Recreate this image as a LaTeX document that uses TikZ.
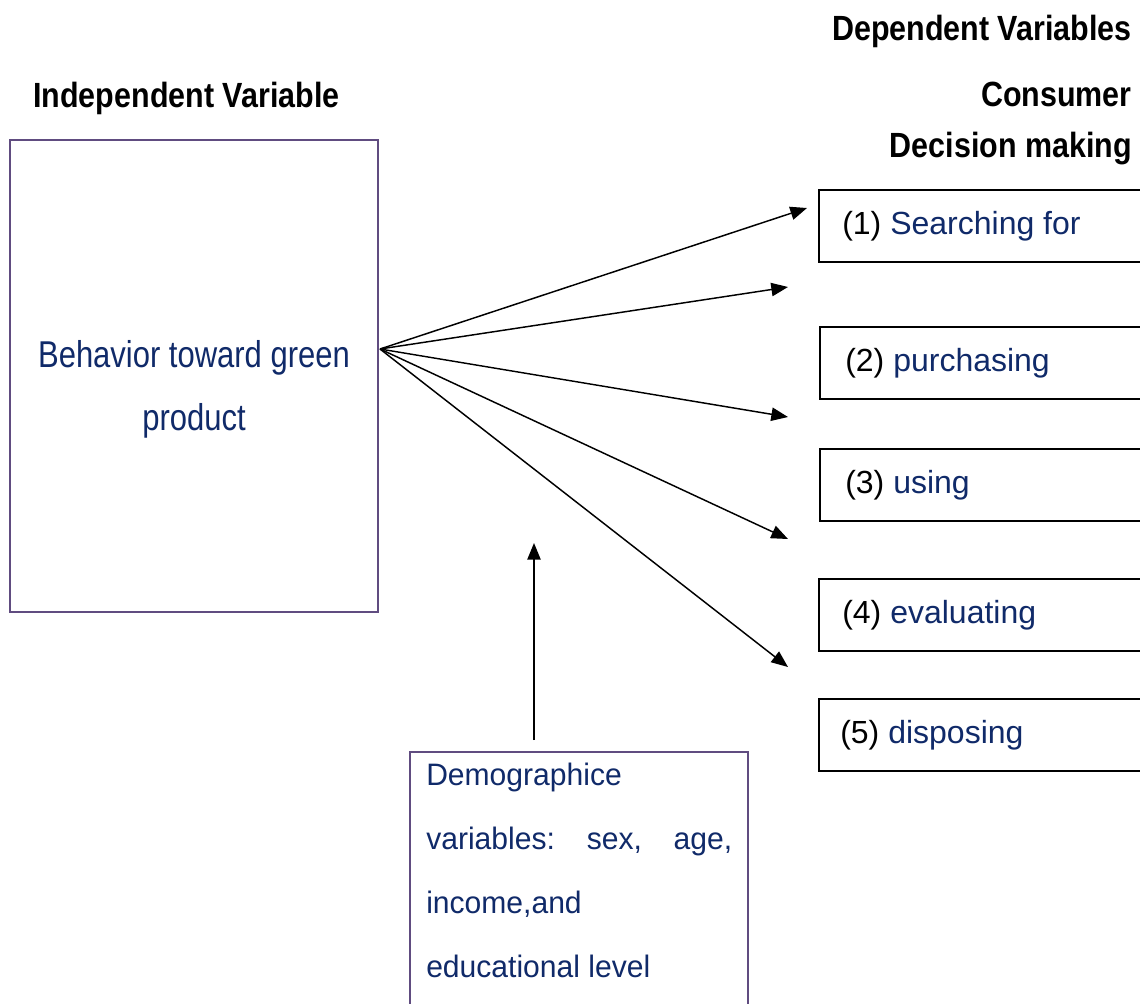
\documentclass[tikz,border=0pt]{standalone}
\usepackage{fontspec}
\usetikzlibrary{arrows.meta}
\newfontfamily\hdfont[FakeStretch=0.87]{Liberation Sans}
\newfontfamily\bhfont[FakeStretch=0.83]{Liberation Sans}
\newfontfamily\bxfont{Liberation Sans}
\newfontfamily\dmfont[FakeStretch=0.97]{Liberation Sans}
\definecolor{boxpurple}{RGB}{96,76,128}
\definecolor{navy}{RGB}{16,42,105}
\tikzset{
  head/.style={inner sep=0pt, font=\hdfont\bfseries\fontsize{26.25pt}{30pt}\selectfont},
  purplebox/.style={draw=boxpurple, line width=1.5pt, rectangle, inner sep=0pt, outer sep=0pt, anchor=north west},
  blackbox/.style={draw=black, line width=1.6pt, rectangle, inner sep=0pt, outer sep=0pt, anchor=north west, minimum width=244.5pt, minimum height=54pt},
  bhtext/.style={inner sep=0pt, text=navy, anchor=base, font=\bhfont\fontsize{28pt}{32pt}\selectfont},
  bxtext/.style={inner sep=0pt, anchor=base west, font=\bxfont\fontsize{24pt}{28pt}\selectfont},
  dmtext/.style={inner sep=0pt, text=navy, anchor=base west, font=\dmfont\fontsize{23.25pt}{28pt}\selectfont},
  arr/.style={line width=1.1pt, -{Triangle[length=12.5pt,width=10pt]}}
}
\begin{document}
\begin{tikzpicture}[x=0.75pt,y=-0.75pt]
\useasboundingbox (0,0) rectangle (1140,1004);
% headings
\node[head, anchor=base east] (dv) at (1132,40) {Dependent Variables};
\node[head, anchor=base west] (iv) at (33,107) {Independent Variable};
\node[head, anchor=base east] (cons) at (1132,106) {Consumer};
\node[head, anchor=base east] (dm) at (1132,157) {Decision making};
% left box
\node[purplebox, minimum width=276pt, minimum height=354pt] (lbox) at (10,140) {};
\node[bhtext] (beh1) at (194,367) {Behavior toward green};
\node[bhtext] (beh2) at (194,430) {product};
% right boxes
\node[blackbox] (b1) at (819,190) {};
\node[blackbox] (b2) at (820,327) {};
\node[blackbox] (b3) at (820,449) {};
\node[blackbox] (b4) at (819,579) {};
\node[blackbox] (b5) at (819,699) {};
\node[bxtext] (t1) at (842,234) {(1) \textcolor{navy}{Searching for}};
\node[bxtext] (t2) at (845,371) {(2) \textcolor{navy}{purchasing}};
\node[bxtext] (t3) at (845,493) {(3) \textcolor{navy}{using}};
\node[bxtext] (t4) at (842,623) {(4) \textcolor{navy}{evaluating}};
\node[bxtext] (t5) at (840,743) {(5) \textcolor{navy}{disposing}};
% bottom box
\node[purplebox, minimum width=253.5pt, minimum height=193.5pt] (dbox) at (410,752) {};
\node[dmtext] (d1) at (426,785) {Demographice};
\node[dmtext, text width=229.5pt] (d2) at (426,849) {variables:\hfill sex,\hfill age,};
\node[dmtext] (d3) at (426,913) {income,and};
\node[dmtext] (d4) at (426,977) {educational level};
% arrows
\coordinate (src) at (380,349);
\coordinate (e1) at (807,208);
\coordinate (e2) at (788,287);
\coordinate (e3) at (788,417);
\coordinate (e4) at (788,539);
\coordinate (e5) at (788,667);
\coordinate (ubot) at (534,740);
\coordinate (utop) at (534,543);
\draw[arr] (src) -- (e1);
\draw[arr] (src) -- (e2);
\draw[arr] (src) -- (e3);
\draw[arr] (src) -- (e4);
\draw[arr] (src) -- (e5);
\draw[arr] (ubot) -- (utop);
\end{tikzpicture}
\end{document}
